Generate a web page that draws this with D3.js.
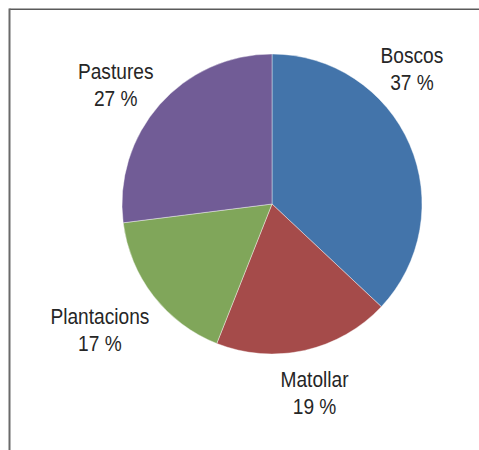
<!DOCTYPE html>
<html>
<head>
<meta charset="utf-8">
<script src="https://cdn.jsdelivr.net/npm/d3@7"></script>
<style>
  html, body { margin: 0; padding: 0; background: #fff; }
  svg { display: block; }
  text { font-family: "Liberation Sans Narrow", "Liberation Sans", Arial, sans-serif; fill: #262626; }
</style>
</head>
<body>
<svg id="chart" width="479" height="450"></svg>
<script>
// Data
const categories = ["Boscos", "Matollar", "Plantacions", "Pastures"];
const values = [37, 19, 17, 27];
const valueLabels = ["37 %", "19 %", "17 %", "27 %"];
const colors = ["#4374AA", "#A54B4A", "#80A65A", "#715C96"];

// Layout
const W = 479, H = 450;
const cx = 272, cy = 204, R = 150;
const labelR = 195;
const labelNudge = [[-39, -50], [0, 6], [-18, 14], [-10, 17]];
const fontSize = 22, lineGap = 27, squeeze = 0.87;

const svg = d3.select("#chart");

// frame (top and left edges only)
svg.append("line").attr("x1", 9.5).attr("x2", 479).attr("y1", 9.25).attr("y2", 9.25)
  .attr("stroke", "#5a5a5a").attr("stroke-width", 1.5);
svg.append("line").attr("x1", 9.5).attr("x2", 9.5).attr("y1", 8.5).attr("y2", 450)
  .attr("stroke", "#6a6a6a").attr("stroke-width", 2);

const pie = d3.pie().sort(null).value(d => d.v);
const data = categories.map((c, i) => ({ c, v: values[i], lbl: valueLabels[i], col: colors[i], i }));
const arcs = pie(data);

const arc = d3.arc().innerRadius(0).outerRadius(R);
const labelArc = d3.arc().innerRadius(labelR).outerRadius(labelR);

const g = svg.append("g").attr("transform", `translate(${cx},${cy})`);
g.selectAll("path.slice").data(arcs).enter().append("path")
  .attr("class", "slice")
  .attr("d", arc)
  .attr("fill", d => d.data.col)
  .attr("stroke", "#ffffff").attr("stroke-width", 0.4);

const lab = g.selectAll("g.lab").data(arcs).enter().append("g").attr("class", "lab")
  .attr("transform", d => {
    const [x, y] = labelArc.centroid(d);
    const n = labelNudge[d.data.i];
    return `translate(${x + n[0]},${y + n[1]}) scale(${squeeze},1)`;
  });
lab.append("text").attr("text-anchor", "middle").attr("y", -lineGap / 2)
  .attr("font-size", fontSize).text(d => d.data.c);
lab.append("text").attr("text-anchor", "middle").attr("y", lineGap / 2)
  .attr("font-size", fontSize).text(d => d.data.lbl);
</script>
</body>
</html>
